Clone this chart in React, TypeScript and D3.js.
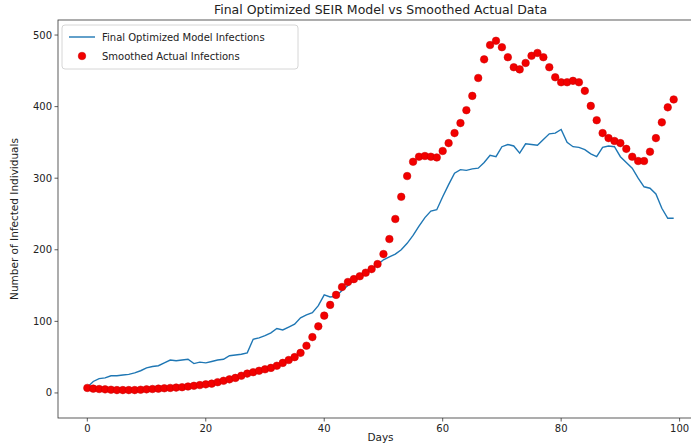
import React from "react";
import * as d3 from "d3";

// smoothed actual infections, day 0..99
const actual = [
  7, 6, 5.5, 5, 4.5, 4, 4, 4, 4, 4.5,
  5, 5.5, 6, 6.5, 7, 7.5, 8, 9, 10, 11,
  12, 13, 15, 17, 19, 21, 24, 27, 29, 31,
  33, 35, 38, 42, 46, 50, 56, 66, 78, 93,
  108, 123, 137, 148, 155, 159, 163, 168, 173, 180,
  194, 215, 243, 274, 303, 323, 330, 331, 330, 329,
  338, 349, 363, 377, 395, 415, 440, 466, 486, 492,
  483, 469, 455, 452, 461, 471, 475, 469, 455, 441,
  434, 434, 436, 434, 422, 401, 381, 363, 356, 352,
  349, 341, 330, 324, 324, 337, 356, 378, 399, 410,
];

// final optimized model infections, day 0..99
const model = [
  8, 16, 20, 21, 24, 24, 25, 26, 28, 31,
  35, 37, 38, 42, 46, 45, 46, 47, 41, 43,
  42, 44, 46, 47, 52, 53, 54, 56, 75, 77,
  80, 84, 90, 88, 92, 96, 105, 109, 112, 122,
  137, 134, 135, 143, 150, 158, 163, 167, 172, 179,
  186, 190, 194, 200, 209, 220, 233, 245, 254, 256,
  274, 291, 307, 312, 311, 313, 314, 322, 332, 330,
  344, 347, 345, 335, 348, 347, 346, 354, 362, 363,
  368, 350, 344, 343, 340, 334, 330, 343, 345, 344,
  330, 322, 314, 300, 288, 286, 278, 258, 244, 244,
];

const xTicks = [0, 20, 40, 60, 80, 100];
const yTicks = [0, 100, 200, 300, 400, 500];

const days = actual.map((_, i) => i);

export default function App() {
  const width = 691;
  const height = 446;
  const margin = { left: 58, top: 20, right: 703, bottom: 418 };
  const font = "DejaVu Sans, sans-serif";

  const x = d3.scaleLinear().domain([-4.95, 103.95]).range([margin.left, margin.right]);
  const y = d3.scaleLinear().domain([-35, 521]).range([margin.bottom, margin.top]);

  const line = d3
    .line<number>()
    .x((_, i) => x(days[i]))
    .y((d) => y(d));

  const cx = (margin.left + margin.right) / 2;
  const dotFill = "#f20000";
  const dotEdge = "#c80000";

  return (
    <svg
      width={width}
      height={height}
      style={{ position: "absolute", left: 0, top: 0, background: "#fff" }}
      fontFamily={font}
    >
      <rect x={0} y={0} width={width} height={height} fill="#fff" />
      <text x={cx} y={14} textAnchor="middle" fontSize={12.5} fill="#222">
        Final Optimized SEIR Model vs Smoothed Actual Data
      </text>

      {/* spines */}
      <rect
        x={margin.left}
        y={margin.top}
        width={margin.right - margin.left}
        height={margin.bottom - margin.top}
        fill="none"
        stroke="#333"
        strokeWidth={0.8}
      />

      {/* x ticks */}
      {xTicks.map((t) => (
        <g key={"x" + t}>
          <line x1={x(t)} x2={x(t)} y1={margin.bottom} y2={margin.bottom + 3.5} stroke="#333" strokeWidth={0.8} />
          <text x={x(t)} y={margin.bottom + 14} textAnchor="middle" fontSize={10} fill="#222">
            {t}
          </text>
        </g>
      ))}
      {/* y ticks */}
      {yTicks.map((t) => (
        <g key={"y" + t}>
          <line x1={margin.left - 3.5} x2={margin.left} y1={y(t)} y2={y(t)} stroke="#333" strokeWidth={0.8} />
          <text x={margin.left - 6} y={y(t) + 3.5} textAnchor="end" fontSize={10} fill="#222">
            {t}
          </text>
        </g>
      ))}

      <text x={cx} y={441} textAnchor="middle" fontSize={10.5} fill="#222">
        Days
      </text>
      <text
        transform={`translate(18, ${(margin.top + margin.bottom) / 2}) rotate(-90)`}
        textAnchor="middle"
        fontSize={10.5}
        fill="#222"
      >
        Number of Infected Individuals
      </text>

      <path d={line(model) ?? ""} fill="none" stroke="#1f77b4" strokeWidth={1.4} />

      {actual.map((v, i) => (
        <circle key={i} cx={x(days[i])} cy={y(v)} r={3.8} fill={dotFill} stroke={dotEdge} strokeWidth={0.5} />
      ))}

      {/* legend */}
      <g>
        <rect x={62} y={25} width={236} height={44} rx={3} fill="#fff" fillOpacity={0.85} stroke="#ccc" strokeWidth={0.8} />
        <line x1={69} x2={95} y1={37} y2={37} stroke="#1f77b4" strokeWidth={1.4} />
        <text x={102} y={41} fontSize={10} fill="#222">
          Final Optimized Model Infections
        </text>
        <circle cx={82} cy={56} r={3.8} fill={dotFill} stroke={dotEdge} strokeWidth={0.5} />
        <text x={102} y={60} fontSize={10} fill="#222">
          Smoothed Actual Infections
        </text>
      </g>
    </svg>
  );
}
